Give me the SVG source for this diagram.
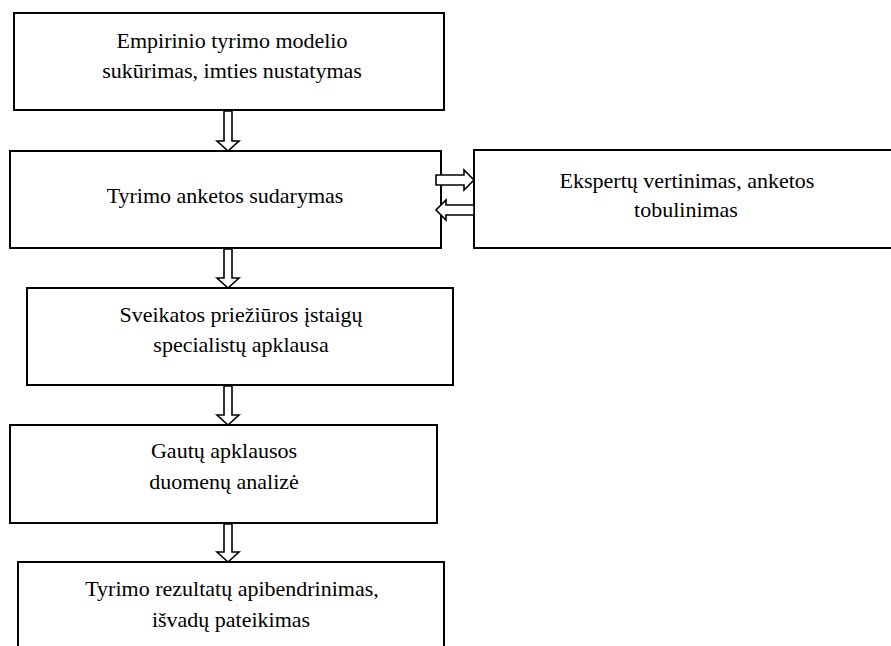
<svg xmlns="http://www.w3.org/2000/svg" width="891" height="646" viewBox="0 0 891 646">
<style>
.box{fill:#fff;stroke:#000;stroke-width:2}
.arr{fill:#fff;stroke:#000;stroke-width:1.6;stroke-linejoin:miter}
text{font-family:"Liberation Serif",serif;font-size:22px;fill:#000;text-anchor:middle}
</style>
<rect width="891" height="646" fill="#fff"/>
<g id="n1"><rect class="box" x="14" y="13" width="430" height="97"/>
<text x="232" y="48" style="font-family:'Liberation Serif';font-size:22px">Empirinio tyrimo modelio</text>
<text x="232" y="78" font-family="Liberation Serif" font-size="22px">sukūrimas, imties nustatymas</text></g>
<g id="n2"><rect class="box" x="10" y="151" width="431" height="97"/>
<text x="225" y="203">Tyrimo anketos sudarymas</text></g>
<g id="n6"><rect class="box" x="474" y="150" width="430" height="98"/>
<text x="687" y="188">Ekspertų vertinimas, anketos</text>
<text x="686" y="217">tobulinimas</text></g>
<g id="n3"><rect class="box" x="27" y="288" width="426" height="97"/>
<text x="241" y="322">Sveikatos priežiūros įstaigų</text>
<text x="241" y="352">specialistų apklausa</text></g>
<g id="n4"><rect class="box" x="10" y="425" width="427" height="98"/>
<text x="224" y="458">Gautų apklausos</text>
<text x="224" y="489">duomenų analizė</text></g>
<g id="n5"><rect class="box" x="18" y="562" width="426" height="100"/>
<text x="232" y="596">Tyrimo rezultatų apibendrinimas,</text>
<text x="231" y="627">išvadų pateikimas</text></g>
<g id="connectors">
<path class="arr" d="M224,111 V141 H217 L228,151 L239,141 H232 V111 Z"/>
<path class="arr" d="M224,249 V278 H217 L228,288 L239,278 H232 V249 Z"/>
<path class="arr" d="M224,386 V415 H217 L228,425 L239,415 H232 V386 Z"/>
<path class="arr" d="M224,524 V552 H217 L228,562 L239,552 H232 V524 Z"/>
<path class="arr" d="M436,175 H464 V170 L474,180 L464,190 V185 H436 Z"/>
<path class="arr" d="M474,205 H446 V200 L436,210 L446,220 V215 H474 Z"/>
</g>
</svg>
